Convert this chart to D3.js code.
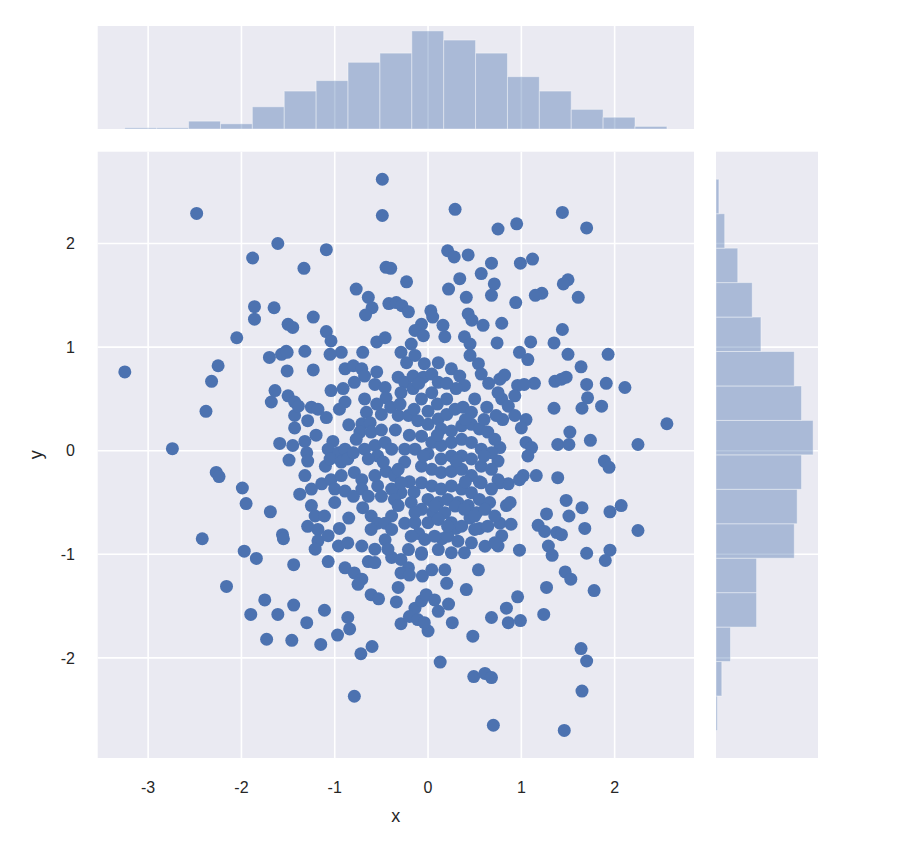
<!DOCTYPE html>
<html>
<head>
<meta charset="utf-8">
<script src="https://cdn.jsdelivr.net/npm/d3@7"></script>
<style>
  body { margin: 0; background: #fff; }
  text { font-family: "Liberation Sans", Arial, sans-serif; fill: #262626; }
</style>
</head>
<body>
<div id="chart-root"></div>
<script>
// scatter points [x, y]
var scatter = [
  // upper left
  [-2.48,2.29],[-1.61,2.0],[-1.88,1.86],[-1.86,1.39],[-1.86,1.27],[-1.65,1.38],[-1.50,1.22],[-1.45,1.19],
  [-2.05,1.09],[-1.52,0.96],[-1.32,0.96],[-1.70,0.90],[-1.57,0.93],[-1.51,0.95],[-1.33,1.76],
  // upper middle
  [-0.49,2.62],[-0.49,2.27],[0.29,2.33],[0.75,2.14],[-1.09,1.94],[0.21,1.93],[0.28,1.87],[0.43,1.89],
  [-0.45,1.77],[-0.40,1.76],[-0.23,1.63],[0.68,1.81],[0.57,1.71],[0.71,1.61],[0.34,1.66],[0.22,1.56],
  [0.41,1.48],[0.68,1.50],[-0.77,1.56],[-0.64,1.48],[-0.60,1.38],[-0.67,1.31],[-0.42,1.42],[-0.34,1.43],
  [-0.28,1.40],[-0.21,1.34],[0.03,1.35],[0.05,1.29],[-1.23,1.29],[-1.09,1.15],[-1.04,1.06],[0.43,1.32],
  [0.47,1.26],[0.59,1.21],[0.16,1.21],[0.18,1.10],[-0.07,1.22],[-0.14,1.16],[-0.05,1.11],[-0.18,1.03],
  [0.39,1.10],[0.45,1.03],[-0.55,1.05],[-0.46,1.09],[-0.70,0.95],[-0.93,0.95],[0.74,1.04],[-0.29,0.95],
  // upper right
  [1.44,2.30],[1.70,2.15],[0.95,2.19],[1.12,1.85],[0.99,1.81],[1.50,1.65],[1.45,1.61],[1.22,1.52],
  [1.15,1.50],[1.61,1.48],[0.94,1.43],[0.79,1.23],[1.44,1.17],[1.10,1.05],[1.35,1.04],[0.98,0.95],
  [1.50,0.93],[1.93,0.93],
  // right middle
  [1.64,0.81],[1.07,0.88],[1.36,0.67],[1.43,0.69],[1.48,0.71],[1.14,0.65],[1.70,0.64],[1.91,0.65],
  [2.11,0.61],[1.71,0.51],[1.65,0.41],[1.86,0.43],[1.35,0.41],[2.56,0.26],[1.52,0.18],[1.39,0.06],
  [1.51,0.06],[1.74,0.10],[2.25,0.06],[1.89,-0.10],[1.94,-0.16],[1.39,-0.26],[1.16,-0.24],[1.02,-0.24],
  [1.48,-0.48],[1.65,-0.55],[2.07,-0.53],[1.51,-0.63],[1.27,-0.61],[1.95,-0.59],[1.18,-0.72],[1.25,-0.78],
  [1.38,-0.79],[1.43,-0.81],[1.68,-0.75],[2.25,-0.77],[0.98,-0.96],[1.29,-0.92],[1.33,-1.01],[1.70,-0.99],
  [1.95,-0.96],[1.90,-1.06],
  [0.77,0.69],[0.82,0.73],[0.96,0.63],[1.03,0.64],[0.79,0.50],[0.86,0.43],[0.93,0.53],[0.80,0.30],
  [0.93,0.34],[1.05,0.30],[1.00,0.22],[0.77,0.03],[1.05,0.08],[1.11,0.03],[1.07,-0.05],[0.75,-0.10],
  [0.77,-0.31],[0.86,-0.32],[0.84,-0.53],[0.77,-0.70],[0.89,-0.71],[0.79,-0.82],[0.75,-0.92],[0.98,-0.28],
  [0.88,-0.50],
  // lower right
  [1.46,-2.70],[1.65,-2.32],[1.64,-1.91],[1.70,-2.03],[1.24,-1.58],[1.27,-1.32],[1.47,-1.17],[1.53,-1.24],
  [1.78,-1.35],[0.96,-1.41],[0.84,-1.52],[0.86,-1.66],[0.99,-1.64],
  // lower middle
  [-0.79,-2.37],[0.13,-2.04],[0.49,-2.18],[0.61,-2.15],[0.68,-2.19],[0.70,-2.65],[0.68,-1.61],[0.48,-1.79],
  [0.41,-1.34],[0.54,-1.15],[0.26,-1.66],[0.22,-1.48],[-0.72,-1.96],[-0.60,-1.89],[-0.97,-1.78],[-0.84,-1.72],
  [-0.86,-1.61],[-1.15,-1.87],[-1.30,-1.66],[-1.11,-1.54],[-1.07,-1.07],[-0.32,-1.32],[-0.34,-1.46],[-0.61,-1.39],
  [-0.53,-1.43],[-0.29,-1.67],[0.0,-1.74],[-0.14,-1.52],[-0.07,-1.45],[-0.02,-1.39],[0.07,-1.44],[0.11,-1.55],
  [-0.20,-1.60],[-0.11,-1.63],[-0.04,-1.66],[-0.89,-1.13],[-0.79,-1.18],[-0.71,-1.24],[-0.75,-1.29],[-0.64,-1.07],
  [-0.57,-1.08],[-0.39,-1.03],[-0.29,-1.05],[-0.21,-1.13],[-0.29,-1.18],[-0.20,-1.20],[-0.06,-1.21],[0.04,-1.15],
  [0.18,-1.15],[0.20,-1.28],[-0.07,-1.0],
  // lower left
  [-2.16,-1.31],[-1.44,-1.10],[-1.75,-1.44],[-1.90,-1.58],[-1.61,-1.58],[-1.44,-1.49],[-1.73,-1.82],[-1.46,-1.83],
  // left middle
  [-3.25,0.76],[-2.25,0.82],[-2.32,0.67],[-2.38,0.38],[-2.74,0.02],[-2.27,-0.21],[-2.24,-0.25],[-1.99,-0.36],
  [-1.95,-0.51],[-1.69,-0.59],[-1.56,-0.81],[-1.55,-0.85],[-2.42,-0.85],[-1.97,-0.97],[-1.84,-1.04],[-1.51,0.77],
  [-1.64,0.58],[-1.68,0.47],[-1.50,0.53],[-1.43,0.47],[-1.43,0.34],[-1.43,0.22],[-1.59,0.07],[-1.45,0.05],
  [-1.49,-0.09],[-1.375,-0.42],
  // centre, upper part
  [-1.05,0.93],[-1.23,0.78],[-0.89,0.79],[-0.80,0.82],[-0.71,0.79],[-0.68,0.72],[-0.79,0.66],[-0.55,0.76],
  [-0.57,0.64],[-0.46,0.61],[-0.45,0.51],[-1.04,0.58],[-0.91,0.60],[-0.89,0.47],[-0.68,0.50],[-0.66,0.37],
  [-0.71,0.26],[-0.62,0.27],[-0.73,0.18],[-0.61,0.18],[-0.23,0.85],[-0.14,0.92],[-0.04,0.84],[-0.32,0.71],
  [-0.25,0.66],[-0.16,0.72],[-0.05,0.71],[0.04,0.74],[0.11,0.85],[-0.29,0.56],[-0.16,0.60],[-0.07,0.50],
  [0.04,0.56],[0.11,0.66],[0.25,0.79],[0.34,0.72],[0.39,0.63],[0.30,0.60],[0.54,0.84],[0.57,0.74],
  [0.45,0.92],[0.63,0.42],[0.75,0.56],[0.73,0.34],
  // centre blob
  [-0.32,0.34],[-0.21,0.34],[-0.11,0.29],[0,0.255],[0.11,0.305],[0.20,0.35],[0.29,0.40],[0.375,0.42],
  [0.465,0.37],[0.14,0.21],[0.25,0.19],[0.36,0.24],[0.465,0.255],[0.55,0.21],[0.64,0.18],[0.715,0.11],
  [-0.07,0.14],[0.04,0.08],[0.14,0.05],[0.25,0.08],[0.36,0.11],[0.465,0.08],[0.57,0.015],[0.68,-0.02],
  [-0.25,0.015],[-0.14,0.015],[0,-0.03],[0.14,-0.08],[0.25,-0.05],[0.36,-0.05],[0.465,-0.08],[0.57,-0.15],
  [0.68,-0.18],[0.75,-0.28],[-0.07,-0.15],[0.04,-0.18],[0.14,-0.21],[0.25,-0.20],[0.36,-0.18],[0.465,-0.24],
  [0.57,-0.31],[0.68,-0.37],[-0.07,-0.31],[0.04,-0.34],[0.14,-0.37],[0.25,-0.34],[0.36,-0.37],[0.465,-0.405],
  [0.55,-0.47],[0.66,-0.50],[0,-0.47],[0.11,-0.50],[0.21,-0.47],[0.32,-0.50],[0.43,-0.53],[0.52,-0.60],
  [-0.25,-0.11],[-0.29,-0.405],
  [-0.50,0.35],[-0.40,0.42],[-0.30,0.45],[-0.15,0.40],[0.0,0.38],[0.10,0.45],[0.20,0.50],[0.50,0.50],
  [0.60,0.30],[-0.50,0.20],[-0.45,-0.20],[-0.20,-0.30],[-0.15,-0.40],[-0.05,-0.05],[0.10,0.15],[0.30,-0.10],
  [0.55,-0.30],[0.60,-0.05],[0.40,-0.30],[-0.10,-0.80],[0.05,-0.60],[0.30,-0.75],[0.55,-0.75],[0.45,-0.65],
  [-0.25,-0.70],[-0.20,0.15],[-0.35,0.20],[-0.55,0.45],[-0.85,0.25],[-0.95,0.40],[-1.20,0.15],[-1.10,-0.15],
  [-0.70,-0.55],[-0.85,-0.65],[-0.95,-0.75],[-1.00,-0.50],[0.65,0.65],[0.20,0.65],[-0.10,0.65],[0.15,-0.85],
  [0.40,0.30],
  // centre, left part
  [-1.39,0.43],[-1.25,0.42],[-1.18,0.40],[-1.29,0.29],[-1.09,0.32],[-1.32,0.09],[-1.02,0.09],[-1.07,0.015],
  [-0.96,-0.02],[-0.89,0.015],[-1.05,-0.08],[-0.93,-0.11],[-0.86,-0.08],[-0.77,0.11],[-0.80,-0.02],[-0.68,0.015],
  [-0.57,0.05],[-0.46,0.08],[-0.39,0.015],[-0.54,-0.05],[-0.64,-0.08],[-0.48,-0.11],[-1.30,-0.02],[-1.29,-0.10],
  [-0.79,-0.21],[-0.71,-0.28],[-1.32,-0.24],[-1.25,-0.37],[-1.14,-0.32],[-1.04,-0.28],[-1.0,-0.37],[-0.89,-0.39],
  [-0.80,-0.44],[-0.71,-0.37],[-0.64,-0.44],[-0.54,-0.34],[-0.50,-0.44],[-0.39,-0.37],[-0.36,-0.24],[-0.32,-0.18],
  [-0.29,-0.31],[-0.36,-0.47],[-0.32,-0.53],[-0.39,-0.63],[-1.25,-0.53],[-1.21,-0.63],[-1.11,-0.63],[-1.18,-0.76],
  [-1.29,-0.73],[-1.18,-0.87],[-1.07,-0.82],[-0.96,-0.92],[-0.86,-0.89],[-1.21,-0.95],[-0.71,-0.92],[-0.57,-0.95],
  [-0.46,-0.86],[-0.43,-0.95],[-0.61,-0.63],[-0.54,-0.70],[-0.46,-0.70],[-0.61,-0.76],[-0.39,-0.76],[-0.93,-0.24],
  [-0.57,-0.24],
  // centre, lower part
  [-0.18,-0.50],[-0.07,-0.566],[0.07,-0.534],[0.18,-0.598],[0.29,-0.534],[0.39,-0.566],[0.50,-0.631],[0.61,-0.566],
  [0.715,-0.631],[-0.14,-0.695],[0,-0.695],[0.11,-0.663],[0.25,-0.695],[0.36,-0.728],[0.50,-0.76],[0.64,-0.728],
  [-0.18,-0.825],[-0.035,-0.857],[0.07,-0.825],[0.21,-0.825],[0.32,-0.873],[0.465,-0.889],[0.61,-0.922],[0.715,-0.889],
  [-0.21,-0.954],[-0.07,-0.985],[0.11,-0.954],[0.25,-0.985],[0.39,-0.985],[-0.14,-0.598],[0.21,-0.728]
];

// marginal histogram counts (equal-width bins over the data range)
var xHistCounts = [1, 1, 6, 4, 17, 29, 37, 51, 58, 75, 68, 58, 40, 29, 15, 9, 2];
var yHistCounts = [1, 4, 10, 28, 28, 54, 56, 59, 67, 59, 54, 31, 25, 15, 6, 2];

var xTicks = [-3, -2, -1, 0, 1, 2];
var yTicks = [-2, -1, 0, 1, 2];

(function () {
  var main  = { left: 97.7, right: 694, top: 151.7, bottom: 758 },
      margX = { top: 26, bottom: 129 },
      margY = { left: 716, right: 818 };

  var blue = "#4c72b0", bg = "#eaeaf2";

  var svg = d3.select("#chart-root")
    .append("svg")
      .attr("width", 906)
      .attr("height", 854);

  // matplotlib style autoscale: data extent plus 5% each side
  function padded(ext) {
    var m = (ext[1] - ext[0]) * 0.05;
    return [ext[0] - m, ext[1] + m];
  }
  var xExt = d3.extent(scatter, function (d) { return d[0]; }),
      yExt = d3.extent(scatter, function (d) { return d[1]; });

  var x = d3.scaleLinear().domain(padded(xExt)).range([main.left, main.right]);
  var y = d3.scaleLinear().domain(padded(yExt)).range([main.bottom, main.top]);

  // bin edges
  var xEdges = d3.range(xHistCounts.length + 1).map(function (i) {
    return xExt[0] + i * (xExt[1] - xExt[0]) / xHistCounts.length;
  });
  var yEdges = d3.range(yHistCounts.length + 1).map(function (i) {
    return yExt[0] + i * (yExt[1] - yExt[0]) / yHistCounts.length;
  });

  var cTop = d3.scaleLinear()
    .domain([0, d3.max(xHistCounts) * 1.05])
    .range([margX.bottom, margX.top]);
  var cRight = d3.scaleLinear()
    .domain([0, d3.max(yHistCounts) * 1.05])
    .range([margY.left, margY.right]);

  // panel backgrounds
  svg.append("rect")
    .attr("x", main.left).attr("y", main.top)
    .attr("width", main.right - main.left).attr("height", main.bottom - main.top)
    .attr("fill", bg);
  svg.append("rect")
    .attr("x", main.left).attr("y", margX.top)
    .attr("width", main.right - main.left).attr("height", margX.bottom - margX.top)
    .attr("fill", bg);
  svg.append("rect")
    .attr("x", margY.left).attr("y", main.top)
    .attr("width", margY.right - margY.left).attr("height", main.bottom - main.top)
    .attr("fill", bg);

  // grid lines
  var grid = svg.append("g").attr("stroke", "#fff").attr("stroke-width", 1.6);
  xTicks.forEach(function (t) {
    grid.append("line")
      .attr("x1", x(t)).attr("x2", x(t))
      .attr("y1", main.top).attr("y2", main.bottom);
    grid.append("line")
      .attr("x1", x(t)).attr("x2", x(t))
      .attr("y1", margX.top).attr("y2", margX.bottom);
  });
  yTicks.forEach(function (t) {
    grid.append("line")
      .attr("x1", main.left).attr("x2", main.right)
      .attr("y1", y(t)).attr("y2", y(t));
    grid.append("line")
      .attr("x1", margY.left).attr("x2", margY.right)
      .attr("y1", y(t)).attr("y2", y(t));
  });

  // top histogram
  svg.append("g")
    .selectAll("rect")
    .data(xHistCounts)
    .enter().append("rect")
      .attr("x", function (d, i) { return x(xEdges[i]); })
      .attr("width", function (d, i) { return x(xEdges[i + 1]) - x(xEdges[i]); })
      .attr("y", function (d) { return cTop(d); })
      .attr("height", function (d) { return margX.bottom - cTop(d); })
      .attr("fill", blue).attr("fill-opacity", 0.4)
      .attr("stroke", "#fff").attr("stroke-opacity", 0.4).attr("stroke-width", 1);

  // right histogram
  svg.append("g")
    .selectAll("rect")
    .data(yHistCounts)
    .enter().append("rect")
      .attr("y", function (d, i) { return y(yEdges[i + 1]); })
      .attr("height", function (d, i) { return y(yEdges[i]) - y(yEdges[i + 1]); })
      .attr("x", margY.left)
      .attr("width", function (d) { return cRight(d) - margY.left; })
      .attr("fill", blue).attr("fill-opacity", 0.4)
      .attr("stroke", "#fff").attr("stroke-opacity", 0.4).attr("stroke-width", 1);

  // scatter
  svg.append("g")
    .selectAll("circle")
    .data(scatter)
    .enter().append("circle")
      .attr("cx", function (d) { return x(d[0]); })
      .attr("cy", function (d) { return y(d[1]); })
      .attr("r", 6.5)
      .attr("fill", blue);

  // tick labels
  svg.append("g")
    .selectAll("text")
    .data(xTicks)
    .enter().append("text")
      .attr("x", function (d) { return x(d); })
      .attr("y", 787)
      .attr("dy", "0.35em")
      .attr("text-anchor", "middle")
      .style("font-size", "16px")
      .text(function (d) { return d; });

  svg.append("g")
    .selectAll("text")
    .data(yTicks)
    .enter().append("text")
      .attr("x", 75)
      .attr("y", function (d) { return y(d); })
      .attr("dy", "0.35em")
      .attr("text-anchor", "end")
      .style("font-size", "16px")
      .text(function (d) { return d; });

  // axis labels
  svg.append("text")
    .attr("x", (main.left + main.right) / 2)
    .attr("y", 816)
    .attr("dy", "0.35em")
    .attr("text-anchor", "middle")
    .style("font-size", "18px")
    .text("x");

  svg.append("text")
    .attr("transform", "translate(36," + ((main.top + main.bottom) / 2) + ") rotate(-90)")
    .attr("dy", "0.35em")
    .attr("text-anchor", "middle")
    .style("font-size", "18px")
    .text("y");
})();
</script>
</body>
</html>
